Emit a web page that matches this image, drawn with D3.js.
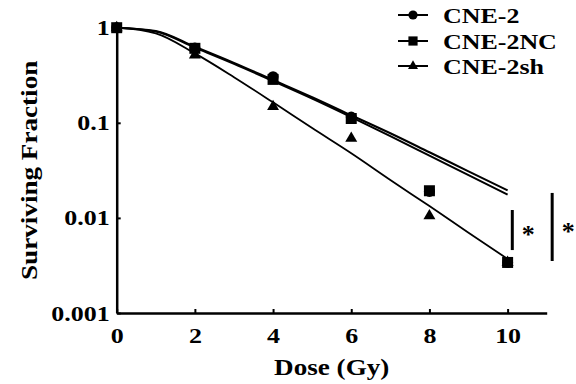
<!DOCTYPE html>
<html>
<head>
<meta charset="utf-8">
<script src="https://cdn.jsdelivr.net/npm/d3@7"></script>
<style>
  html, body { margin: 0; padding: 0; background: #fff; }
  text { font-family: "Liberation Serif", "Times New Roman", serif; font-weight: bold; fill: #000; }
</style>
</head>
<body>
<div id="chart"></div>
<script>
// data
const doses = [0, 2, 4, 6, 8, 10];
const cne2 = [1, 0.61, 0.305, 0.115, 0.019, 0.0034];
const cne2NC = [1, 0.607, 0.286, 0.111, 0.0193, 0.0034];
const cne2sh = [1, 0.516, 0.148, 0.0687, 0.0105, 0.0034];

// fitted curves, sampled every 1 Gy
const fitDoses = [0, 1, 2, 3, 4, 5, 6, 7, 8, 9, 10];
const fitCne2 = [1, 0.923, 0.631, 0.427, 0.282, 0.186, 0.120, 0.0776, 0.049, 0.0309, 0.0195];
const fitCne2NC = [1, 0.912, 0.617, 0.417, 0.275, 0.180, 0.115, 0.0724, 0.0452, 0.0282, 0.0176];
const fitCne2sh = [1, 0.871, 0.537, 0.302, 0.164, 0.0881, 0.0479, 0.0251, 0.0133, 0.0070, 0.0037];

const seriesNames = ['CNE-2', 'CNE-2NC', 'CNE-2sh'];
const xTicks = [0, 2, 4, 6, 8, 10];
const yTicks = [0.001, 0.01, 0.1, 1];
const yTickLabels = ['0.001', '0.01', '0.1', '1'];

// significance brackets: [dose, low, high]
const sigBars = [[10.12, 0.00459, 0.0121], [11.14, 0.00352, 0.0183]];

const width = 576, height = 384;
const margins = { top: 27.7, bottom: 71, left: 116.7, right: 29.3 };
const stretch = 1.18;

const svg = d3.select('#chart').append('svg')
    .attr('width', width)
    .attr('height', height);

const xScale = d3.scaleLinear()
    .domain([0, 11])
    .range([margins.left, width - margins.right]);

const yScale = d3.scaleLog()
    .domain([0.001, 1])
    .range([height - margins.bottom, margins.top]);

// axes
const xAxisGroup = svg.append('g')
    .attr('transform', `translate(0,${yScale(0.001)})`)
    .call(d3.axisBottom(xScale).tickValues(xTicks).tickSizeInner(-4).tickSizeOuter(0).tickPadding(14));

const yAxisGroup = svg.append('g')
    .attr('transform', `translate(${xScale(0)},0)`)
    .call(d3.axisLeft(yScale).tickValues(yTicks).tickFormat((d, i) => yTickLabels[i])
        .tickSizeInner(-4).tickSizeOuter(0).tickPadding(6));

[xAxisGroup, yAxisGroup].forEach(g => {
    g.select('.domain').attr('stroke', '#000').attr('stroke-width', 2.5);
    g.selectAll('.tick line').attr('stroke', '#000').attr('stroke-width', 2);
    g.selectAll('.tick text')
        .attr('font-size', 22)
        .attr('font-family', null)
        .attr('transform', `scale(${stretch},1)`);
});

// axis titles
svg.append('text')
    .attr('transform', `translate(${(xScale(0) + xScale(11)) / 2},${375}) scale(${stretch},1)`)
    .attr('text-anchor', 'middle')
    .attr('font-size', 23)
    .text('Dose (Gy)');

svg.append('text')
    .attr('transform', `translate(37,${(yScale(1) + yScale(0.001)) / 2}) rotate(-90) scale(${stretch},1)`)
    .attr('text-anchor', 'middle')
    .attr('font-size', 23)
    .text('Surviving Fraction');

// fitted lines
const lineGenerator = d3.line()
    .x((d, i) => xScale(fitDoses[i]))
    .y(d => yScale(d))
    .curve(d3.curveMonotoneX);

const fits = [fitCne2, fitCne2NC, fitCne2sh];
const fitWidths = [2, 2, 1.8];
fits.forEach((f, k) => {
    svg.append('path')
        .datum(f)
        .attr('fill', 'none')
        .attr('stroke', '#000')
        .attr('stroke-width', fitWidths[k])
        .attr('d', lineGenerator);
});

// points
const symbols = [d3.symbolCircle, d3.symbolSquare, d3.symbolTriangle];
const symbolSizes = [95, 121, 62];
const pointSets = [cne2, cne2sh, cne2NC];
const pointSymbols = [0, 2, 1];

pointSets.forEach((vals, k) => {
    const s = pointSymbols[k];
    svg.append('g').selectAll('path')
        .data(vals)
        .join('path')
        .attr('transform', (d, i) => `translate(${xScale(doses[i])},${yScale(d)})`)
        .attr('d', d3.symbol(symbols[s], symbolSizes[s]))
        .attr('fill', '#000');
});

// significance bars
sigBars.forEach(b => {
    svg.append('line')
        .attr('x1', xScale(b[0])).attr('x2', xScale(b[0]))
        .attr('y1', yScale(b[1])).attr('y2', yScale(b[2]))
        .attr('stroke', '#000')
        .attr('stroke-width', 3);
    svg.append('text')
        .attr('x', xScale(b[0]) + 16)
        .attr('y', (yScale(b[1]) + yScale(b[2])) / 2 + 13)
        .attr('text-anchor', 'middle')
        .attr('font-size', 26)
        .text('*');
});

// legend
const legendRows = [15, 41, 66];
const legend = svg.append('g');
seriesNames.forEach((name, i) => {
    legend.append('line')
        .attr('x1', 398).attr('x2', 428)
        .attr('y1', legendRows[i]).attr('y2', legendRows[i])
        .attr('stroke', '#000')
        .attr('stroke-width', 2);
    legend.append('path')
        .attr('transform', `translate(413,${legendRows[i]})`)
        .attr('d', d3.symbol(symbols[i], symbolSizes[i] * 0.7))
        .attr('fill', '#000');
    legend.append('text')
        .attr('transform', `translate(443,${legendRows[i] + 8}) scale(${stretch},1)`)
        .attr('font-size', 22)
        .text(name);
});
</script>
</body>
</html>
